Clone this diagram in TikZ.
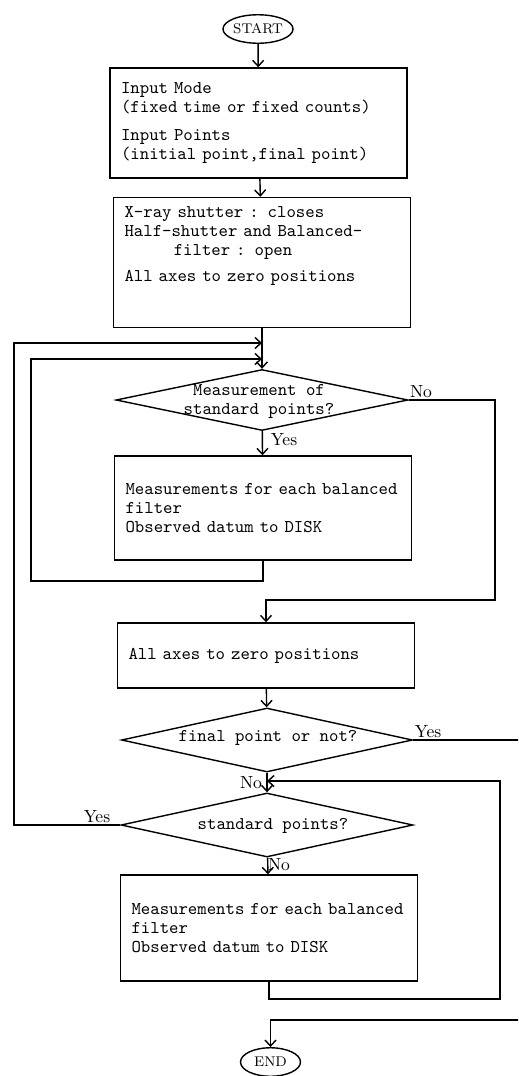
\documentclass[tikz,border=0pt]{standalone}
\usetikzlibrary{shapes.geometric, arrows.meta}

\begin{document}
\begin{tikzpicture}[x=0.02cm, y=-0.02cm, line width=0.8pt,
	procbox/.style={draw, rectangle, minimum width=5.94cm, text width=5.5cm, inner xsep=0.22cm, align=left, font=\fontsize{10.2}{10.8}\selectfont\ttfamily},
	decision/.style={draw, diamond, inner sep=0pt},
	dtext/.style={align=center, inner sep=0pt, font=\fontsize{10.2}{10.8}\selectfont\ttfamily},
	terminal/.style={draw, ellipse, minimum width=1.2cm, minimum height=0.57cm, inner sep=0pt, font=\fontsize{8}{9}\selectfont},
	answer/.style={inner sep=0pt, font=\fontsize{10}{11}\selectfont},
	flow/.style={arrows={-{Straight Barb[length=1.2mm, width=2.2mm]}}}]
	\useasboundingbox (0,0) rectangle (518,1076);
	\clip (0,0) rectangle (518,1076);

	% blocks
	\node [terminal] (start) at (258,29) {START};
	\node [procbox, minimum height=2.2cm] (b1) at (258.5,123) {Input Mode\\
		(fixed time or fixed counts)\\[5pt]
		Input Points\\
		(initial point,final point)};
	\node [procbox, minimum height=2.6cm] (b2) at (262,262.5) {X-ray shutter : closes\\
		Half-shutter and Balanced-\\
		\hspace*{2.75em}filter : open\\[4pt]
		All axes to zero positions\\[10pt]\mbox{}};
	\node [decision, minimum width=5.84cm, minimum height=1.22cm] (d1) at (262,400) {};
	\node [dtext] (d1text) at (259,401) {Measurement of\\standard points?};
	\node [procbox, minimum height=2.08cm] (b3) at (263,508) {Measurements for each balanced\\
		filter\\
		Observed datum to DISK};
	\node [procbox, minimum height=1.3cm] (b4) at (266,655.5) {All axes to zero positions};
	\node [decision, minimum width=5.82cm, minimum height=1.28cm] (d2) at (267,740) {};
	\node [dtext] (d2text) at (268,738) {final point or not?};
	\node [decision, minimum width=5.84cm, minimum height=1.28cm] (d3) at (267,825) {};
	\node [dtext] (d3text) at (273,826) {standard points?};
	\node [procbox, minimum height=2.12cm] (b5) at (269,928) {Measurements for each balanced\\
		filter\\
		Observed datum to DISK};
	\node [terminal] (end) at (270.5,1062) {END};

	% joins on the main line
	\coordinate (j1) at (262,343);
	\coordinate (j2) at (262,359);
	\coordinate (j3) at (267,781);

	% main flow
	\draw [flow] (start) -- (b1);
	\draw [flow] (b1) -- (b2);
	\draw [flow] (b2) -- (d1);
	\draw [flow] (d1) -- (b3);
	\draw [flow] (b3.south) |- (31,581) |- (j2);
	\draw [flow] (d1.east) -| (495,600) -| (b4.north);
	\draw [flow] (b4) -- (d2);
	\draw [flow] (d2) -- (d3);
	\draw [flow] (d3.west) -| (14,343) -- (j1);
	\draw [flow] (d3) -- (b5);
	\draw [flow] (b5.south) |- (500,999) |- (j3);
	\draw [flow] (d2.east) -| (540,1020) -| (end.north);

	% branch labels
	\node [answer] (yes1) at (284,440) {Yes};
	\node [answer] (no1) at (421,392) {No};
	\node [answer] (yes2) at (428,732) {Yes};
	\node [answer] (no2) at (251,783) {No};
	\node [answer] (yes3) at (97,817) {Yes};
	\node [answer] (no3) at (279,865) {No};
\end{tikzpicture}
\end{document}
